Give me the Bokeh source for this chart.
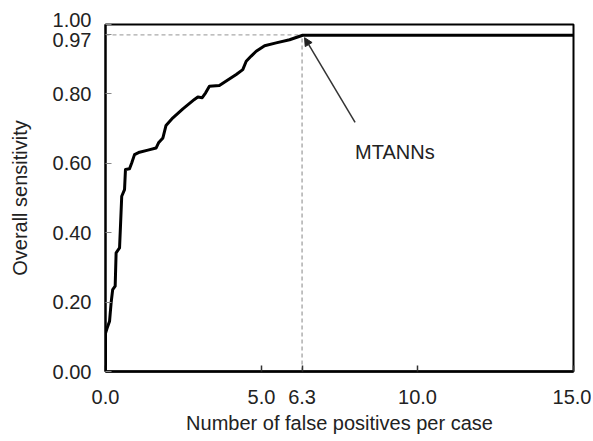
from bokeh.plotting import figure
from bokeh.models import Range1d, FixedTicker, Label, Arrow, NormalHead
from bokeh.embed import file_html
from bokeh.resources import INLINE

# False positives per case (x) and overall sensitivity (y)
fp = [0.0, 0.0, 0.07, 0.13, 0.18, 0.23, 0.31, 0.34, 0.45, 0.48, 0.52, 0.61, 0.64,
      0.77, 0.84, 0.93, 1.09, 1.36, 1.62, 1.70, 1.84, 1.94, 2.16, 2.48, 2.85, 2.96,
      3.10, 3.21, 3.33, 3.65, 3.87, 4.19, 4.40, 4.51, 4.67, 4.83, 5.10, 5.47, 5.90,
      6.32, 15.0]
sens = [0.0, 0.11, 0.13, 0.145, 0.198, 0.236, 0.246, 0.342, 0.356, 0.419, 0.505,
        0.524, 0.582, 0.584, 0.601, 0.625, 0.632, 0.638, 0.644, 0.659, 0.673, 0.709,
        0.731, 0.757, 0.784, 0.791, 0.789, 0.803, 0.822, 0.824, 0.837, 0.856, 0.870,
        0.894, 0.909, 0.923, 0.939, 0.947, 0.956, 0.969, 0.969]

x_ticks = [0.0, 5.0, 6.3, 10.0, 15.0]
x_tick_labels = ["0.0", "5.0", "6.3", "10.0", "15.0"]
y_ticks = [0.0, 0.2, 0.4, 0.6, 0.8, 0.97, 1.0]
# the two top labels are nudged apart (down / up) with an empty second line
y_tick_labels = ["0.00", "0.20", "0.40", "0.60", "0.80", " \n0.97", "1.00\n "]

op_fp = 6.3
op_sens = 0.97
series_name = "MTANNs"

FONT = "Liberation Sans"
FS = "20px"
TXT = "#222222"

p = figure(
    frame_width=468, frame_height=347,
    min_border_left=105, min_border_right=18, min_border_top=24, min_border_bottom=62,
    x_range=Range1d(0, 15), y_range=Range1d(0, 1),
    output_backend="svg", toolbar_location=None,
    background_fill_color="white", border_fill_color="white",
)
p.grid.visible = False
p.outline_line_color = "black"
p.outline_line_width = 2

# x axis
xa = p.xaxis[0]
xa.ticker = FixedTicker(ticks=x_ticks)
xa.major_label_overrides = {t: l for t, l in zip(x_ticks, x_tick_labels)}
xa.minor_tick_line_color = None
xa.major_tick_in = 6
xa.major_tick_out = 0
xa.major_tick_line_color = "#333333"
xa.major_tick_line_width = 1.5
xa.axis_line_color = "black"
xa.axis_line_width = 2.5
xa.major_label_text_font = FONT
xa.major_label_text_font_size = FS
xa.major_label_text_color = TXT
xa.major_label_standoff = 18
xa.axis_label = "Number of false positives per case"
xa.axis_label_text_font = FONT
xa.axis_label_text_font_size = FS
xa.axis_label_text_font_style = "normal"
xa.axis_label_text_color = TXT
xa.axis_label_standoff = 5

# y axis
ya = p.yaxis[0]
ya.ticker = FixedTicker(ticks=y_ticks)
ya.major_label_overrides = {t: l for t, l in zip(y_ticks, y_tick_labels)}
ya.minor_tick_line_color = None
ya.major_tick_in = 6
ya.major_tick_out = 0
ya.major_tick_line_color = "#888888"
ya.major_tick_line_width = 1
ya.axis_line_color = "black"
ya.axis_line_width = 2
ya.major_label_text_font = FONT
ya.major_label_text_font_size = FS
ya.major_label_text_color = TXT
ya.major_label_text_line_height = 0.45
ya.major_label_standoff = 14
ya.axis_label = "Overall sensitivity"
ya.axis_label_text_font = FONT
ya.axis_label_text_font_size = FS
ya.axis_label_text_font_style = "normal"
ya.axis_label_text_color = TXT
ya.axis_label_standoff = 19

# reference dashed lines at the operating point
p.line([0, op_fp], [op_sens, op_sens], line_color="#aaaaaa", line_width=1.2, line_dash="4 3")
p.line([op_fp, op_fp], [0, op_sens], line_color="#999999", line_width=1.2, line_dash="4 3")

# FROC curve
p.line(fp, sens, line_color="black", line_width=3, line_join="round")

# annotation
p.add_layout(Arrow(x_start=8.0, y_start=0.718, x_end=6.38, y_end=0.962,
                   line_color="#333333", line_width=1.5,
                   end=NormalHead(size=8, fill_color="#222222", line_color="#222222")))
p.add_layout(Label(x=8.0, y=0.634, text=series_name, text_baseline="middle",
                   text_font=FONT, text_font_size=FS, text_color=TXT))

open("out.html", "w").write(file_html(p, INLINE))
